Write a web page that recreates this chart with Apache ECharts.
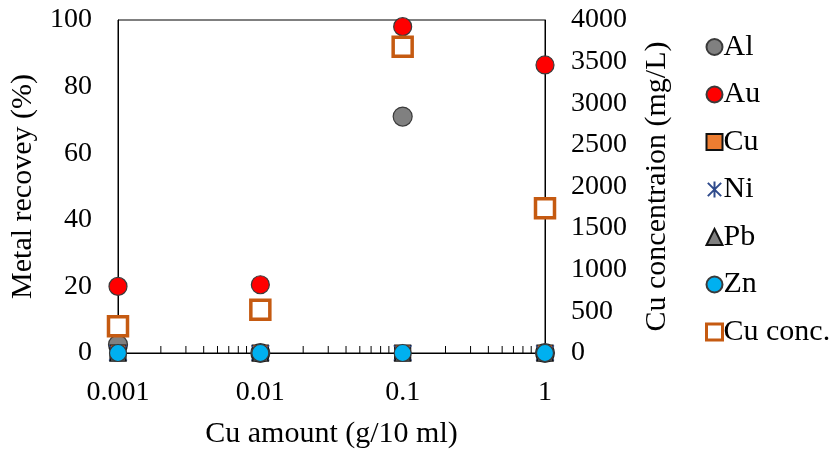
<!DOCTYPE html>
<html>
<head>
<meta charset="utf-8">
<script src="https://cdn.jsdelivr.net/npm/echarts@6/dist/echarts.min.js"></script>
<style>html,body{margin:0;padding:0;background:#fff}#c{width:835px;height:450px}</style>
</head>
<body>
<div id="c"></div>
<script>
const cuAmount = [0.001, 0.01, 0.1, 1];
const al = [2.5, 0, 71, 0];
const au = [20, 20.5, 98, 86.5];
const cu = [0, 0, 0, 0];
const ni = [0, 0, 0, 0];
const pb = [0, 0, 0, 0];
const zn = [0, 0, 0, 0];
const cuConc = [320, 520, 3680, 1740];
const minorTickValues = [0.002,0.003,0.004,0.005,0.006,0.007,0.008,0.009,0.02,0.03,0.04,0.05,0.06,0.07,0.08,0.09,0.2,0.3,0.4,0.5,0.6,0.7,0.8,0.9];

const FONT = 'Liberation Serif';
const FS = 28;
const FN = 30;
const pair = arr => cuAmount.map((x, i) => [x, arr[i]]);

const chart = echarts.init(document.getElementById('c'), null, {renderer: 'canvas'});
chart.setOption({
  animation: false,
  textStyle: {fontFamily: FONT, color: '#000'},
  grid: {left: 118, right: 290, top: 20, bottom: 97, outerBoundsMode: 'none', containLabel: false,
    show: true, borderColor: '#000', borderWidth: 1, backgroundColor: 'transparent'},
  legend: {
    orient: 'vertical', left: 700, top: 27, itemGap: 17.5, itemWidth: 16, itemHeight: 16,
    textStyle: {fontFamily: FONT, fontSize: FN, color: '#000', padding: [0,0,0,-4]},
    data: ['Al','Au','Cu','Ni','Pb','Zn', {name: 'Cu conc.', itemStyle: {borderWidth: 3}}]
  },
  xAxis: {
    type: 'log', logBase: 10, min: 0.001, max: 1,
    name: 'Cu amount (g/10 ml)', nameLocation: 'middle', nameGap: 66,
    nameTextStyle: {fontFamily: FONT, fontSize: FN, color: '#000'},
    axisLine: {show: true, lineStyle: {color: '#000', width: 1}},
    axisTick: {show: true, inside: true, length: 7, lineStyle: {color: '#000'}},
    minorTick: {show: false},
    splitLine: {show: false},
    axisLabel: {fontFamily: FONT, fontSize: FS, color: '#000', margin: 26,
      formatter: v => String(Number(Number(v).toPrecision(3)))}
  },
  yAxis: [{
    type: 'value', min: 0, max: 100, interval: 20,
    name: 'Metal recovey (%)', nameLocation: 'middle', nameGap: 80, nameRotate: 90,
    nameTextStyle: {fontFamily: FONT, fontSize: FN, color: '#000'},
    axisLine: {show: true, lineStyle: {color: '#000'}},
    axisTick: {show: false}, splitLine: {show: false},
    axisLabel: {fontFamily: FONT, fontSize: FS, color: '#000', margin: 26}
  }, {
    type: 'value', min: 0, max: 4000, interval: 500, position: 'right',
    name: 'Cu concentraion (mg/L)', nameLocation: 'middle', nameGap: 97, nameRotate: 90,
    nameTextStyle: {fontFamily: FONT, fontSize: FN, color: '#000'},
    axisLine: {show: true, lineStyle: {color: '#000'}},
    axisTick: {show: false}, splitLine: {show: false},
    axisLabel: {fontFamily: FONT, fontSize: FS, color: '#000', margin: 26, formatter: v => String(v)}
  }],
  series: [
    {type: 'custom', name: 'minorTicks', silent: true, z: 1, clip: false,
      data: minorTickValues.map(v => [v, 0]),
      renderItem: (params, api) => {
        const p = api.coord([api.value(0), 0]);
        return {type: 'line', shape: {x1: p[0], y1: p[1], x2: p[0], y2: p[1] - 7}, style: {stroke: '#000', lineWidth: 1}};
      }
    },
    {type: 'scatter', name: 'Al', data: pair(al), symbol: 'circle', symbolSize: 19, clip: false,
      itemStyle: {color: '#808080', borderColor: '#3a3a3a', borderWidth: 1.2, opacity: 1}},
    {type: 'scatter', name: 'Au', data: pair(au), symbol: 'circle', symbolSize: 18, clip: false,
      itemStyle: {color: '#ff0000', borderColor: '#3a3a3a', borderWidth: 1.2, opacity: 1}},
    {type: 'scatter', name: 'Cu', data: pair(cu), symbol: 'rect', symbolSize: 16, clip: false,
      itemStyle: {color: '#ed7d31', borderColor: '#111', borderWidth: 1.2, opacity: 1}},
    {type: 'scatter', name: 'Ni', data: pair(ni), symbol: 'path://M0,0L10,10M10,0L0,10M5,-1L5,11', symbolSize: 18, clip: false,
      itemStyle: {color: 'rgba(0,0,0,0)', borderColor: '#2f4b8c', borderWidth: 1.2, opacity: 1}},
    {type: 'scatter', name: 'Pb', data: pair(pb), symbol: 'triangle', symbolSize: 16, clip: false,
      itemStyle: {color: '#808080', borderColor: '#111', borderWidth: 1.2, opacity: 1}},
    {type: 'scatter', name: 'Zn', data: pair(zn), symbol: 'circle', symbolSize: 17, clip: false,
      itemStyle: {color: '#00b0f0', borderColor: '#3a3a3a', borderWidth: 1.2, opacity: 1}},
    {type: 'scatter', name: 'Cu conc.', yAxisIndex: 1, data: pair(cuConc), symbol: 'rect', symbolSize: 19, clip: false,
      itemStyle: {color: '#ffffff', borderColor: '#c55a11', borderWidth: 3.5, opacity: 1}}
  ]
});
</script>
</body>
</html>
